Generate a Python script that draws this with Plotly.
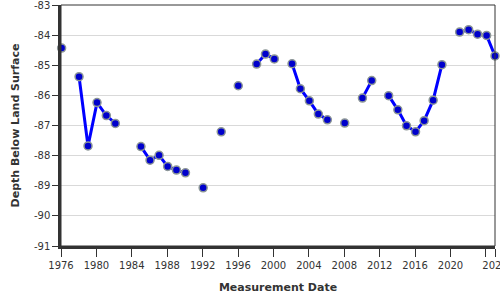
import plotly.graph_objects as go
import pandas as pd

dates = ["1976-01-26", "1978-01-15", "1979-01-20", "1980-01-26", "1981-02-14", "1982-02-20",
         "1985-01-12", "1986-01-22", "1987-01-30", "1988-01-19", "1989-01-15", "1990-01-22",
         "1992-01-22", "1994-02-06", "1996-01-10", "1998-02-06", "1999-02-06", "2000-02-06",
         "2002-02-06", "2003-01-15", "2004-01-22", "2005-01-26", "2006-02-02", "2008-01-19",
         "2010-01-19", "2011-02-06", "2013-01-05", "2014-01-19", "2015-01-12", "2016-01-19",
         "2017-01-08", "2018-01-15", "2019-01-12", "2021-01-12", "2022-01-19", "2023-01-22",
         "2024-01-30", "2025-01-10"]
depth = [-84.43, -85.38, -87.68, -86.24, -86.67, -86.93,
         -87.70, -88.15, -87.99, -88.36, -88.48, -88.57,
         -89.07, -87.21, -85.68, -84.96, -84.63, -84.79,
         -84.95, -85.78, -86.18, -86.62, -86.81, -86.92,
         -86.09, -85.51, -86.01, -86.48, -87.01, -87.21,
         -86.84, -86.16, -84.98, -83.90, -83.82, -83.97,
         -84.01, -84.69]

tick_years = [1976, 1980, 1984, 1988, 1992, 1996, 2000, 2004, 2008, 2012, 2016, 2020, 2024]
y_ticks = [-83, -84, -85, -86, -87, -88, -89, -90, -91]

# build line segments: break where consecutive measurements are more than ~1.5 years apart
dt = pd.to_datetime(dates)
lx, ly = [], []
for i, (d, v) in enumerate(zip(dt, depth)):
    if i > 0 and (d - dt[i - 1]).days > 550:
        lx.append(None)
        ly.append(None)
    lx.append(d)
    ly.append(v)

fig = go.Figure()
fig.add_trace(go.Scatter(x=lx, y=ly, mode="lines", connectgaps=False,
                         line=dict(color="#0000ff", width=3), hoverinfo="skip",
                         showlegend=False, cliponaxis=False))
fig.add_trace(go.Scatter(x=dt, y=depth, mode="markers",
                         marker=dict(size=8, color="#0000cc",
                                     line=dict(color="rgb(140,150,150)", width=1.5)),
                         showlegend=False, cliponaxis=False))

tickvals = [f"{y}-01-01" for y in tick_years] + [dates[-1]]
ticktext = [str(y) for y in tick_years[:-1]] + ["", "2025"]

font = dict(family="DejaVu Sans", size=10, color="#333333")
fig.update_layout(
    width=500, height=300,
    margin=dict(l=61, r=5, t=5, b=54),
    plot_bgcolor="white", paper_bgcolor="white",
    font=font,
    xaxis=dict(type="date", range=["1976-01-01", dates[-1]],
               tickvals=tickvals, ticktext=ticktext, automargin=False,
               showgrid=False, zeroline=False, ticklabeloverflow="allow",
               showline=True, linecolor="#333333", linewidth=2.5,
               ticks="outside", ticklen=8, tickcolor="#333333", tickwidth=1,
               tickfont=font,
               title=dict(text="<b>Measurement Date</b>", font=dict(family="DejaVu Sans", size=11, color="#333333"),
                          standoff=14)),
    yaxis=dict(range=[-91.0001, -82.9999], tickvals=y_ticks, ticktext=[str(v) for v in y_ticks],
               automargin=False,
               showgrid=True, gridcolor="#d9d9d9", gridwidth=1, zeroline=False, ticklabeloverflow="allow",
               showline=True, linecolor="#333333", linewidth=2.5,
               ticks="outside", ticklen=6, tickcolor="#333333", tickwidth=1,
               tickfont=font,
               title=dict(text="<b>Depth Below Land Surface</b>", font=dict(family="DejaVu Sans", size=11, color="#333333"),
                          standoff=13)),
)
fig.add_shape(type="rect", xref="paper", yref="paper", x0=0, y0=0, x1=1, y1=1,
              line=dict(color="#333333", width=1), layer="above")

fig.write_html("out.html")
